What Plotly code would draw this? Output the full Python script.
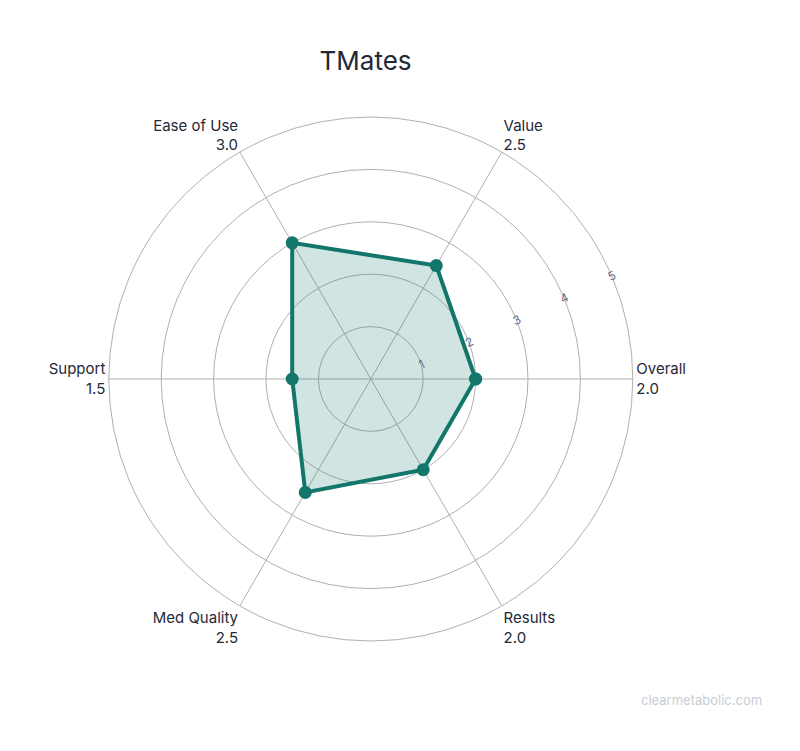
import plotly.graph_objects as go

categories = ["Overall", "Value", "Ease of Use", "Support", "Med Quality", "Results"]
values = [2.0, 2.5, 3.0, 1.5, 2.5, 2.0]
labels = [f"{c}<br>{v:.1f}" for c, v in zip(categories, values)]

teal = "#12766b"
fig = go.Figure(go.Scatterpolar(
    r=values + values[:1], theta=labels + labels[:1],
    mode="lines+markers", fill="toself",
    fillcolor="rgba(18,118,107,0.2)",
    line=dict(color=teal, width=4), marker=dict(size=13, color=teal),
    hoverinfo="skip"))

fig.update_layout(
    width=800, height=751, margin=dict(l=0, r=0, t=0, b=0),
    paper_bgcolor="white", showlegend=False,
    font=dict(family="Inter, Liberation Sans, sans-serif", color="#1f2937"),
    title=dict(text="TMates", x=0.447, xanchor="center", y=0.93, yanchor="middle",
               font=dict(size=26, color="#1f2937")),
    polar=dict(
        domain=dict(x=[0.126, 0.781], y=[0.157, 0.855]),
        bgcolor="white",
        angularaxis=dict(rotation=0, direction="counterclockwise",
                         gridcolor="#b0b0b0", linecolor="#b0b0b0", showline=True,
                         tickfont=dict(size=15, color="#1f2937"), ticks=""),
        radialaxis=dict(range=[0, 5], tickvals=[1, 2, 3, 4, 5], angle=25, tickangle=0,
                        showline=False, gridcolor="#b0b0b0", ticks="",
                        tickfont=dict(size=12, color="#6b6b8a")),
    ),
    annotations=[dict(text="clearmetabolic.com", x=0.945, y=0.065, xref="paper", yref="paper",
                      xanchor="right", showarrow=False, font=dict(size=13, color="#c8cdd3"))],
)
fig.write_html("out.html")
